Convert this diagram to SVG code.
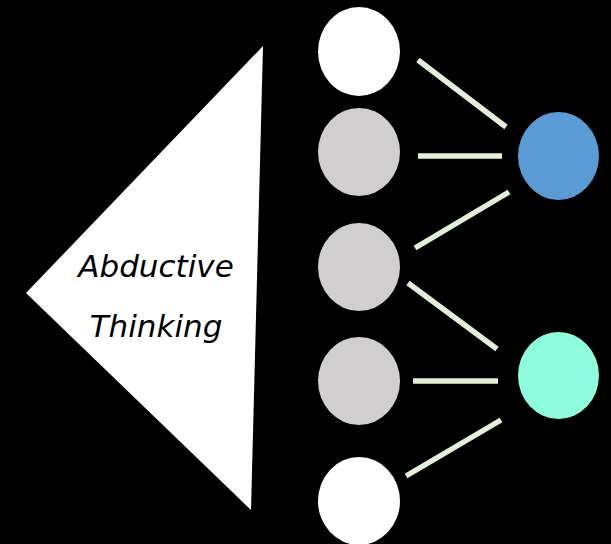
<svg xmlns="http://www.w3.org/2000/svg" width="611" height="544" viewBox="0 0 611 544">
  <style>
    .bg { fill: #000000; }
    .wedge { fill: #ffffff; }
    .label { font-family: "DejaVu Sans", "Liberation Sans", sans-serif; font-style: italic; font-size: 31px; fill: #000000; text-anchor: middle; }
    .white { fill: #ffffff; }
    .grey { fill: #d0cece; }
    .blue { fill: #5b9bd5; }
    .mint { fill: #8cfcdc; }
    .link { stroke: #e2f0d9; stroke-width: 5.5; fill: none; }
  </style>
  <rect class="bg" x="0" y="0" width="611" height="544"/>

  <g id="abductive-thinking">
    <polygon class="wedge" points="263,46 26,293 251,510"/>
    <text class="label" x="156" y="277">Abductive</text>
    <text class="label" x="156" y="337">Thinking</text>
  </g>

  <g id="connectors">
    <line class="link" x1="418" y1="60" x2="506" y2="127"/>
    <line class="link" x1="418" y1="156" x2="502" y2="156"/>
    <line class="link" x1="415" y1="248" x2="509" y2="192"/>
    <line class="link" x1="408" y1="283" x2="497" y2="349"/>
    <line class="link" x1="413" y1="381" x2="498" y2="381"/>
    <line class="link" x1="406" y1="476" x2="501" y2="420"/>
  </g>

  <g id="input-1"><ellipse class="white" cx="359" cy="51.5" rx="41" ry="44.5"/></g>
  <g id="input-2"><ellipse class="grey" cx="359" cy="152" rx="41" ry="44"/></g>
  <g id="input-3"><ellipse class="grey" cx="359" cy="267" rx="41" ry="44"/></g>
  <g id="input-4"><ellipse class="grey" cx="359" cy="381" rx="41" ry="44"/></g>
  <g id="input-5"><ellipse class="white" cx="359" cy="501" rx="41" ry="44"/></g>

  <g id="output-blue"><ellipse class="blue" cx="558.5" cy="156" rx="40.5" ry="44"/></g>
  <g id="output-mint"><ellipse class="mint" cx="558.5" cy="375.5" rx="40.5" ry="43.5"/></g>
</svg>
